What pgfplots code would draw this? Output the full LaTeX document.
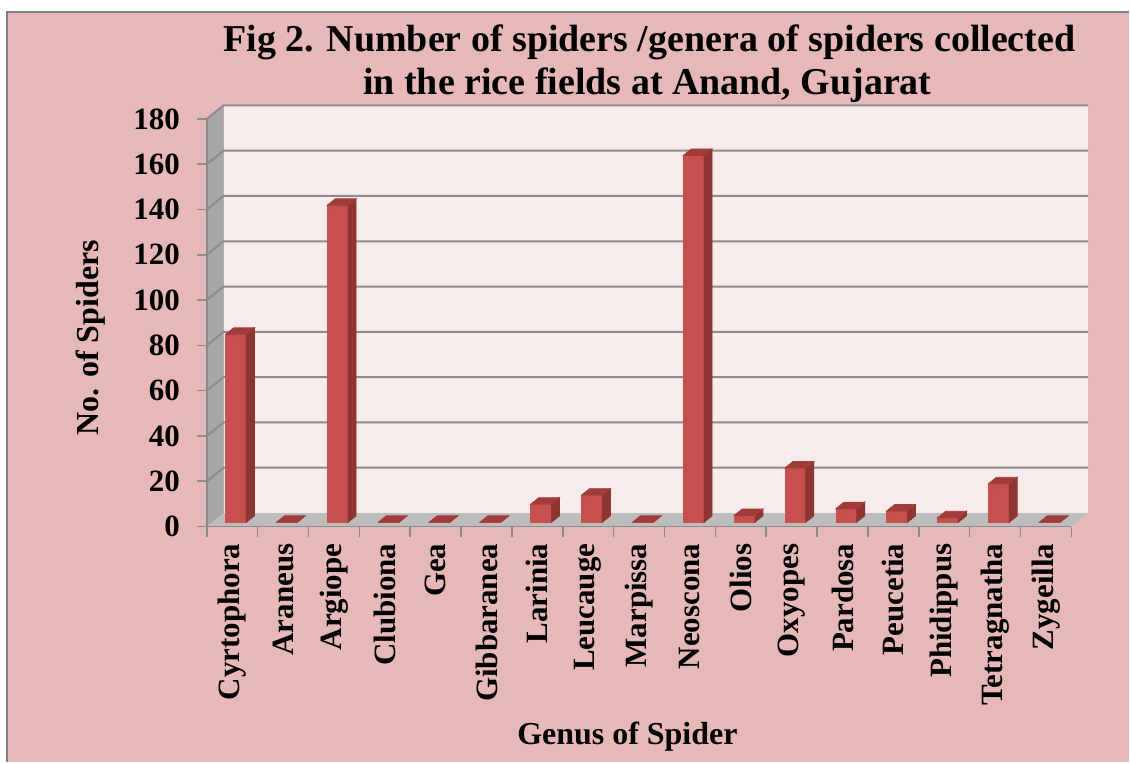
\documentclass[border=0pt]{standalone}
\usepackage{pgfplots}
\usepackage{pgfplotstable}
\pgfplotsset{compat=1.18}
\usepackage{fontspec}
\setmainfont{Liberation Serif}

\definecolor{chartbg}{HTML}{E6B9B8}
\definecolor{wallbg}{HTML}{F7EBEB}
\definecolor{sidewall}{HTML}{A6A6A6}
\definecolor{floorgray}{HTML}{BDBDBD}
\definecolor{gridgray}{HTML}{8C8C8C}
\definecolor{barfront}{HTML}{C5504D}
\definecolor{barside}{HTML}{8E3533}
\definecolor{bartop}{HTML}{A23C3A}

% spiders collected per genus
\pgfplotstableread{
idx genus count
0  Cyrtophora  83
1  Araneus     0
2  Argiope     140
3  Clubiona    0
4  Gea         0
5  Gibbaranea  0
6  Larinia     8
7  Leucauge    12
8  Marpissa    0
9  Neoscona    162
10 Olios       3
11 Oxyopes     24
12 Pardosa     6
13 Peucetia    5
14 Phidippus   2
15 Tetragnatha 17
16 Zygeilla    0
}\spiders

% depth offset of the back wall
\tikzset{back/.style={xshift=8.35pt,yshift=6.75pt}}

\begin{document}
\begin{tikzpicture}
% frame, title and axis titles (units of half a point)
\begin{scope}[x=0.5pt,y=-0.5pt,shift={(-232.45,-527)}]
  \fill[white] (0,0) rectangle (1130,763);
  \fill[chartbg] (7,12) rectangle (1130,763);
  \draw[gray,line width=1pt] (7,763) -- (7,12) -- (1130,12);
  \node[font=\bfseries\fontsize{19}{22}\selectfont,anchor=base] at (650,52)
    {Fig 2. Number of spiders /genera of spiders collected};
  \node[font=\bfseries\fontsize{19}{22}\selectfont,anchor=base] at (648,95)
    {in the rice fields at Anand, Gujarat};
  \node[font=\bfseries\fontsize{16}{19}\selectfont,rotate=90] at (91,338)
    {No. of Spiders};
  \node[font=\bfseries\fontsize{16}{19}\selectfont,anchor=base] at (628,745)
    {Genus of Spider};
\end{scope}

\begin{axis}[
  at={(0,0)}, anchor=origin,
  x=25.45pt, y=1.13333pt,
  xmin=-0.5, xmax=16.5, ymin=0, ymax=180,
  clip=false,
  axis on top,
  axis lines=left,
  axis line style={draw=gridgray,line width=0.8pt,-},
  tick align=outside,
  major tick length=5pt,
  ytick={0,20,...,180},
  ytick style={draw=gridgray,line width=0.8pt},
  xtick={0,...,16},
  xticklabels from table={\spiders}{genus},
  xtick style={draw=none},
  /pgf/number format/assume math mode=true,
  tick label style={font=\bfseries\fontsize{15.5}{18}\selectfont},
  yticklabel style={xshift=-5pt},
  xticklabel style={rotate=90,anchor=east},
]
  % walls and floor
  \fill[wallbg] ([back]axis cs:-0.5,0) rectangle ([back]axis cs:16.5,180);
  \fill[sidewall] (axis cs:-0.5,0) -- (axis cs:-0.5,180)
    -- ([back]axis cs:-0.5,180) -- ([back]axis cs:-0.5,0) -- cycle;
  \fill[floorgray] (axis cs:-0.5,0) -- (axis cs:16.5,0)
    -- ([back]axis cs:16.5,0) -- ([back]axis cs:-0.5,0) -- cycle;
  % grid lines across the side wall and the back wall
  \pgfplotsinvokeforeach{20,40,...,180}{
    \draw[gridgray,line width=1pt] (axis cs:-0.5,#1) -- ([back]axis cs:-0.5,#1)
      -- ([back]axis cs:16.5,#1);
  }
  % category boundary ticks
  \pgfplotsinvokeforeach{-0.5,0.5,...,16.5}{
    \draw[gridgray,line width=0.8pt] (axis cs:#1,0) -- ([yshift=-5pt]axis cs:#1,0);
  }
  % columns with front, side and top faces, set a little back from the front plane
  \addplot[
    scatter, only marks, mark=*, mark size=0pt,
    visualization depends on={rawy\as\rawy},
    scatter/@pre marker code/.code={
      \pgfmathsetmacro\hf{2.15-\rawy*1.13333}
      \pgfmathsetmacro\hb{5.35-\rawy*1.13333}
      \fill[barfront] (-3.28pt,\hf pt) rectangle (7.08pt,2.15pt);
      \fill[barside] (7.08pt,\hf pt) -- (7.08pt,2.15pt) -- (11.08pt,5.35pt)
        -- (11.08pt,\hb pt) -- cycle;
      \fill[bartop] (-3.28pt,2.15pt) -- (7.08pt,2.15pt) -- (11.08pt,5.35pt)
        -- (0.72pt,5.35pt) -- cycle;
    },
    scatter/@post marker code/.code={},
  ] table[x=idx,y=count] {\spiders};
\end{axis}
\end{tikzpicture}
\end{document}
